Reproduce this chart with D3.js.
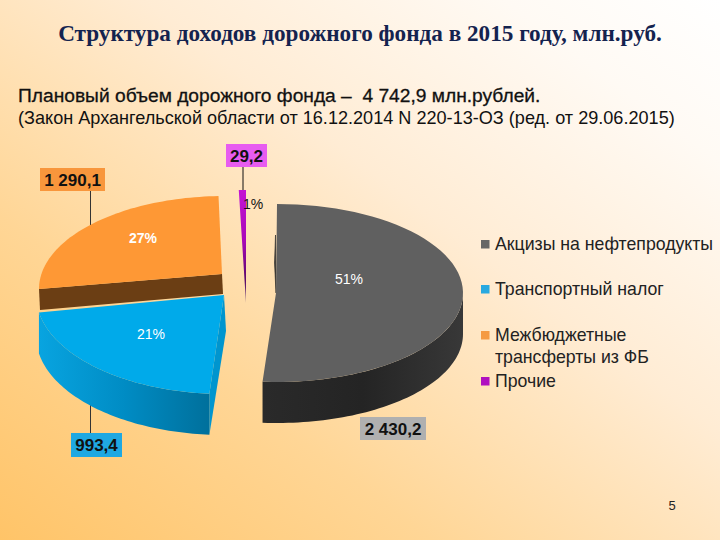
<!DOCTYPE html>
<html><head><meta charset="utf-8">
<script src="https://cdnjs.cloudflare.com/ajax/libs/d3/7.8.5/d3.min.js"></script>
<style>html,body{margin:0;padding:0;background:#fff}svg{display:block}</style></head>
<body><svg id="c" width="720" height="540"></svg>
<script>
// --- data ---
const categories = ["Акцизы на нефтепродукты", "Транспортный налог", "Межбюджетные\nтрансферты из ФБ", "Прочие"];
const values = [2430.2, 993.4, 1290.1, 29.2];
const valueLabels = ["2 430,2", "993,4", "1 290,1", "29,2"];
const percentLabels = ["51%", "21%", "27%", "1%"];
const titleText = "Структура доходов дорожного фонда в 2015 году, млн.руб.";
const subtitleLines = ["Плановый объем дорожного фонда –  4 742,9 млн.рублей.", "(Закон Архангельской области от 16.12.2014 N 220-13-ОЗ (ред. от 29.06.2015)"];
// --- styles / layout ---
const topColors = ["#606060", "#00aaea", "#fe9835", "#b40cc4"];
const legendColors = ["#666666", "#29a9e0", "#f59a42", "#b010c0"];
const boxColors = ["#b0b0b0", "#1fa8e2", "#f8963c", "#e75cf0"];
const apexes = [[276, 293], [224, 295], [222, 274], [246, 303]];
const rimCenters = [[277, 293], [224, 295], [225, 289], [246, 303]];
const radiiX = [186, 188, 186, 187];
const radiiY = [89, 99, 93, 113];
const rimDegrees = [null, null, [270, 358], null]; // perspective correction of the rim
const depth = 41;
const boxes = [[360, 417, 66, 23], [71, 433, 51, 24], [40, 168, 65, 23], [226, 144, 41, 23]];
const pctPos = [[349, 284], [151, 339], [143, 243], [253, 209]];
const pctStyle = [["#fff", 400], ["#fff", 400], ["#fff", 700], ["#111", 400]];
const legendY = [[250], [295], [341, 363], [387]];

const svg = d3.select("#c");
const defs = svg.append("defs");
const bg = defs.append("linearGradient").attr("id", "bg").attr("x1", 0).attr("y1", 1).attr("x2", 1).attr("y2", 0);
[[0, "#ffc468"], [0.3, "#ffd696"], [0.6, "#ffecd4"], [0.85, "#fffaf4"], [1, "#ffffff"]].forEach(s => bg.append("stop").attr("offset", s[0]).attr("stop-color", s[1]));
const gGrey = defs.append("linearGradient").attr("id", "sideGrey");
[[0, "#2a2a2a"], [0.5, "#242424"], [1, "#383838"]].forEach(s => gGrey.append("stop").attr("offset", s[0]).attr("stop-color", s[1]));
const gBlue = defs.append("linearGradient").attr("id", "sideBlue");
[[0, "#08a4e0"], [0.5, "#008cc4"], [1, "#00709c"]].forEach(s => gBlue.append("stop").attr("offset", s[0]).attr("stop-color", s[1]));
const gPur = defs.append("linearGradient").attr("id", "pur").attr("x1", 0).attr("y1", 0).attr("x2", 0).attr("y2", 1);
[[0, "#c414d4"], [0.45, "#a808b8"], [0.8, "#5a0a68"], [1, "#7a5a80"]].forEach(s => gPur.append("stop").attr("offset", s[0]).attr("stop-color", s[1]));

svg.append("rect").attr("width", 720).attr("height", 540).attr("fill", "url(#bg)");

const pie = d3.pie().sort(null).value(d => d);
const arcs = pie(values);
const rimScale = arcs.map((a, i) => {
  const s = d3.scaleLinear().domain([a.startAngle, a.endAngle]);
  return rimDegrees[i] ? s.range(rimDegrees[i].map(d => d * Math.PI / 180)) : s.range([a.startAngle, a.endAngle]);
});
const pt = (i, a, dz = 0) => {
  const p = rimScale[i](a);
  return [rimCenters[i][0] + radiiX[i] * Math.sin(p), rimCenters[i][1] - radiiY[i] * Math.cos(p) + dz];
};
const line = d3.line();
const samples = (a0, a1) => d3.range(0, 61).map(k => a0 + (a1 - a0) * k / 60);
const wall = (i, a0, a1) => line(samples(a0, a1).map(a => pt(i, a)).concat(samples(a1, a0).map(a => pt(i, a, depth)))) + "Z";
const topPath = (i) => line([apexes[i]].concat(samples(arcs[i].startAngle, arcs[i].endAngle).map(a => pt(i, a)))) + "Z";
const g = svg.append("g");

// leader lines
[[2, 90.5, 191, 225], [3, 243, 167, 192], [1, 90.5, 405, 433]].forEach(l =>
  g.append("line").attr("x1", l[1]).attr("x2", l[1]).attr("y1", l[2]).attr("y2", l[3]).attr("stroke", l[0] === 3 ? "#111" : "#333").attr("stroke-width", 1));

// orange: cut face and top
const os = pt(2, arcs[2].startAngle);
g.append("path").attr("d", line([apexes[2], os, [os[0] + 1, os[1] + 21], [apexes[2][0] + 1, apexes[2][1] + 20]]) + "Z").attr("fill", "#6b3e14");
g.append("path").attr("d", topPath(2)).attr("fill", topColors[2]);

// blue: cut face, wall, top
const bs = pt(1, arcs[1].startAngle);
g.append("path").attr("d", line([apexes[1], [apexes[1][0] + 2, apexes[1][1] + 36], [bs[0], bs[1] + depth], bs]) + "Z").attr("fill", "#0095cf");
g.append("path").attr("d", wall(1, arcs[1].startAngle, arcs[1].endAngle)).attr("fill", "url(#sideBlue)");
g.append("path").attr("d", topPath(1)).attr("fill", topColors[1]);

// grey: cut edge, wall, top
g.append("path").attr("d", line([[apexes[0][0] - 0.5, apexes[0][1] - 58], [apexes[0][0] - 1.5, apexes[0][1] - 30], apexes[0]]) + "Z").attr("fill", "#2a2a2a").attr("stroke", "#2a2a2a").attr("stroke-width", .6);
g.append("path").attr("d", wall(0, Math.PI / 2, arcs[0].endAngle)).attr("fill", "url(#sideGrey)");
g.append("path").attr("d", topPath(0)).attr("fill", topColors[0]);

// purple sliver
g.append("path").attr("d", topPath(3)).attr("fill", "url(#pur)");

// percent labels
g.selectAll("text.pct").data(percentLabels).join("text").attr("class", "pct")
  .attr("x", (d, i) => pctPos[i][0]).attr("y", (d, i) => pctPos[i][1]).attr("text-anchor", "middle")
  .attr("font-family", "Liberation Sans").attr("font-size", 14)
  .attr("fill", (d, i) => pctStyle[i][0]).attr("font-weight", (d, i) => pctStyle[i][1]).text(d => d);

// value boxes
const bx = svg.selectAll("g.box").data(valueLabels).join("g").attr("class", "box");
bx.append("rect").attr("x", (d, i) => boxes[i][0]).attr("y", (d, i) => boxes[i][1]).attr("width", (d, i) => boxes[i][2]).attr("height", (d, i) => boxes[i][3]).attr("fill", (d, i) => boxColors[i]);
bx.append("text").attr("x", (d, i) => boxes[i][0] + boxes[i][2] / 2).attr("y", (d, i) => boxes[i][1] + boxes[i][3] / 2 + 6)
  .attr("text-anchor", "middle").attr("font-family", "Liberation Sans").attr("font-weight", 700).attr("font-size", 17).attr("fill", "#111").text(d => d);

// legend
const lg = svg.selectAll("g.lg").data(categories).join("g").attr("class", "lg");
lg.append("rect").attr("x", 481).attr("y", (d, i) => legendY[i][0] - 10).attr("width", 8.5).attr("height", 8.5).attr("fill", (d, i) => legendColors[i]);
lg.each(function (d, i) {
  d3.select(this).selectAll("text").data(d.split("\n")).join("text").attr("x", 495).attr("y", (t, k) => legendY[i][k])
    .attr("font-family", "Liberation Sans").attr("font-size", 17.7).attr("fill", "#222").text(t => t);
});

// titles
svg.append("text").attr("x", 360).attr("y", 41).attr("text-anchor", "middle").attr("font-family", "Liberation Serif").attr("font-weight", 700).attr("font-size", 23.2).attr("fill", "#14234f").text(titleText);
svg.selectAll("text.sub").data(subtitleLines).join("text").attr("class", "sub").attr("x", 18).attr("y", (d, i) => 102 + i * 22)
  .style("white-space", "pre")
  .attr("font-family", "Liberation Sans").attr("font-size", (d, i) => i === 0 ? 19.2 : 18.1).attr("fill", "#111")
  .attr("stroke", (d, i) => i === 0 ? "#111" : "none").attr("stroke-width", .3).text(d => d);
svg.append("text").attr("x", 672).attr("y", 510).attr("text-anchor", "middle").attr("font-family", "Liberation Sans").attr("font-size", 13).attr("fill", "#222").text("5");
</script></body></html>
